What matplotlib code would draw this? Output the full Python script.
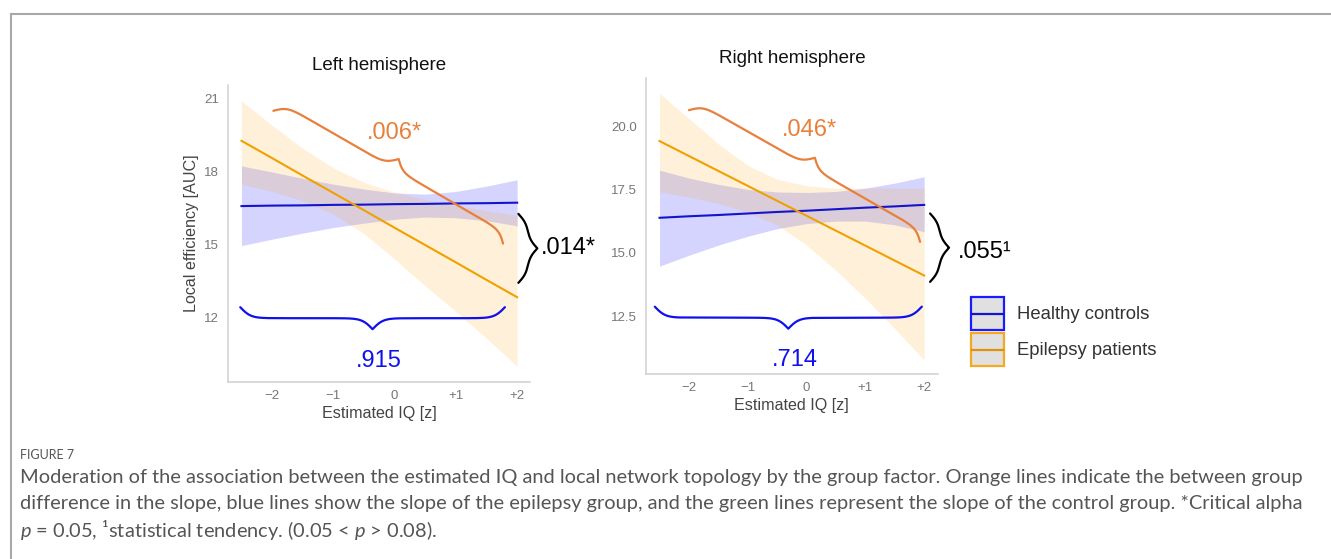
import numpy as np
import matplotlib
matplotlib.use("Agg")
import matplotlib.pyplot as plt
from matplotlib.patches import Rectangle
from matplotlib.transforms import IdentityTransform

plt.rcParams["font.family"] = ["Liberation Sans", "DejaVu Sans"]
plt.rcParams["mathtext.fontset"] = "custom"
plt.rcParams["mathtext.rm"] = "Lato"
plt.rcParams["mathtext.it"] = "Lato:italic"

# estimated IQ (z) grid where fits / CIs were read
iq_grid = [-2.5, -2.0, -1.5, -1.0, -0.5, 0.0, 0.5, 1.0, 1.5, 2.0]

# left hemisphere - healthy controls
lh_ctrl_fit = [16.58, 16.60, 16.61, 16.63, 16.64, 16.66, 16.67, 16.69, 16.70, 16.72]
lh_ctrl_lo = [14.96, 15.22, 15.47, 15.70, 15.88, 16.04, 16.13, 16.10, 15.98, 15.77]
lh_ctrl_hi = [18.23, 17.98, 17.72, 17.48, 17.28, 17.12, 17.07, 17.18, 17.40, 17.66]
# left hemisphere - epilepsy patients
lh_epi_fit = [19.26, 18.55, 17.83, 17.12, 16.41, 15.69, 14.98, 14.27, 13.55, 12.84]
lh_epi_lo = [17.48, 17.18, 16.80, 16.25, 15.45, 14.40, 13.30, 12.25, 11.15, 10.00]
lh_epi_hi = [20.90, 19.90, 18.95, 18.15, 17.55, 17.15, 16.85, 16.60, 16.40, 16.20]

# right hemisphere - healthy controls
rh_ctrl_fit = [16.38, 16.44, 16.49, 16.55, 16.61, 16.66, 16.72, 16.78, 16.83, 16.89]
rh_ctrl_lo = [14.47, 14.90, 15.30, 15.65, 15.95, 16.15, 16.25, 16.25, 16.10, 15.83]
rh_ctrl_hi = [18.26, 17.95, 17.70, 17.50, 17.40, 17.38, 17.42, 17.55, 17.75, 18.00]
# right hemisphere - epilepsy patients
rh_epi_fit = [19.41, 18.82, 18.23, 17.64, 17.05, 16.46, 15.87, 15.28, 14.69, 14.10]
rh_epi_lo = [17.41, 17.20, 16.95, 16.60, 16.10, 15.30, 14.30, 13.20, 12.00, 10.76]
rh_epi_hi = [21.29, 20.30, 19.30, 18.45, 17.90, 17.65, 17.55, 17.55, 17.55, 17.55]

xtick_vals = [-2, -1, 0, 1, 2]
xtick_labels = ["\u22122", "\u22121", "0", "+1", "+2"]
lh_yticks = [12, 15, 18, 21]
lh_ylabels = ["12", "15", "18", "21"]
rh_yticks = [12.5, 15.0, 17.5, 20.0]
rh_ylabels = ["12.5", "15.0", "17.5", "20.0"]

# p-values: slope difference, epilepsy slope, control slope
lh_p = [".006*", ".014*", ".915"]
rh_p = [".046*", ".055\u00b9", ".714"]
groups = ["Healthy controls", "Epilepsy patients"]

BLUE_LINE = "#1414cc"
ORANGE_LINE = "#f0a000"
BRACE_ORANGE = "#e8803c"
BRACE_BLUE = "#1010ee"

W, H = 1331, 559
fig = plt.figure(figsize=(W / 100, H / 100), dpi=100)

ax1 = fig.add_axes([228 / W, 1 - 382 / H, 302 / W, 297 / H])
ax2 = fig.add_axes([646 / W, 1 - 374.3 / H, 291.7 / W, 296.3 / H])


def panel(ax, c_fit, c_lo, c_hi, e_fit, e_lo, e_hi, xlim, ylim, yt, ytl, title):
    ax.fill_between(iq_grid, c_lo, c_hi, color="blue", alpha=0.17, lw=0)
    ax.fill_between(iq_grid, e_lo, e_hi, color="orange", alpha=0.15, lw=0)
    ax.plot(iq_grid, c_fit, color=BLUE_LINE, lw=1.5)
    ax.plot(iq_grid, e_fit, color=ORANGE_LINE, lw=1.5)
    ax.set_xlim(xlim)
    ax.set_ylim(ylim)
    ax.set_xticks(xtick_vals, xtick_labels)
    ax.set_yticks(yt, ytl)
    ax.tick_params(length=0, labelsize=9.5, labelcolor="#777777")
    ax.tick_params(axis="y", pad=6.5)
    ax.tick_params(axis="x", pad=5.5)
    for s in ["top", "right"]:
        ax.spines[s].set_visible(False)
    for s in ["left", "bottom"]:
        ax.spines[s].set_color("#d0d0d0")
        ax.spines[s].set_linewidth(1.1)
    ax.set_xlabel("Estimated IQ [z]", fontsize=11.6, color="#444444", labelpad=3)
    ax.annotate(title, xy=(0.5, 1), xycoords="axes fraction", xytext=(0, 13.8),
                textcoords="offset points", ha="center", va="center",
                fontsize=13.5, color="#111111")


def brace(ax, p1, p2, h, color, lw=1.6, beta=0.19):
    # curly brace between two data points, tip on the left-hand side of p1->p2
    a = ax.transData.transform(p1)
    b = ax.transData.transform(p2)
    d = b - a
    L = np.hypot(*d)
    u = d / L
    n = np.array([-u[1], u[0]])
    t = np.linspace(0, L / 2, 200)
    s = h * (2 / (1 + np.exp(-beta * t)) - 1) + 2 * h / (1 + np.exp(-beta * (t - L / 2)))
    t = np.concatenate([t, L - t[::-1]])
    s = np.concatenate([s, s[::-1]])
    pts = a + np.outer(t, u) + np.outer(s, n)
    ax.plot(pts[:, 0], pts[:, 1], color=color, lw=lw, transform=IdentityTransform(),
            clip_on=False, solid_capstyle="round")


panel(ax1, lh_ctrl_fit, lh_ctrl_lo, lh_ctrl_hi, lh_epi_fit, lh_epi_lo, lh_epi_hi,
      (-2.72, 2.21), (9.36, 21.55), lh_yticks, lh_ylabels, "Left hemisphere")
ax1.set_ylabel("Local efficiency [AUC]", fontsize=11.6, color="#444444", labelpad=4)
panel(ax2, rh_ctrl_fit, rh_ctrl_lo, rh_ctrl_hi, rh_epi_fit, rh_epi_lo, rh_epi_hi,
      (-2.73, 2.23), (10.2, 21.9), rh_yticks, rh_ylabels, "Right hemisphere")

# left panel annotations
brace(ax1, (-1.98, 20.49), (1.77, 15.04), 10.5, BRACE_ORANGE)
brace(ax1, (2.02, 16.26), (2.02, 13.43), 9.5, "black")
brace(ax1, (1.80, 12.43), (-2.52, 12.43), 11, BRACE_BLUE)
ax1.text(0.0, 19.6, lh_p[0], color=BRACE_ORANGE, fontsize=17, ha="center", va="center")
ax1.text(2.38, 14.87, lh_p[1], color="black", fontsize=17, ha="left", va="center", clip_on=False)
ax1.text(-0.25, 10.24, lh_p[2], color=BRACE_BLUE, fontsize=17, ha="center", va="center")

# right panel annotations
brace(ax2, (-2.0, 20.63), (1.93, 15.43), 10.5, BRACE_ORANGE)
brace(ax2, (2.10, 16.55), (2.10, 13.85), 9.5, "black")
brace(ax2, (1.96, 12.87), (-2.58, 12.87), 11, BRACE_BLUE)
ax2.text(0.05, 19.84, rh_p[0], color=BRACE_ORANGE, fontsize=17, ha="center", va="center")
ax2.text(2.57, 15.04, rh_p[1], color="black", fontsize=17, ha="left", va="center", clip_on=False)
ax2.text(-0.2, 10.76, rh_p[2], color=BRACE_BLUE, fontsize=17, ha="center", va="center")

# overlay in pixel units for frame, legend and caption
ov = fig.add_axes([0, 0, 1, 1], zorder=5)
ov.set_xlim(0, W)
ov.set_ylim(H, 0)
ov.axis("off")
ov.patch.set_visible(False)

ov.plot([10.5, 10.5], [H, 13.5], color="#a8a8a8", lw=1.5)
ov.plot([10.5, W], [13.5, 13.5], color="#a8a8a8", lw=1.5)

for i, (lab, edge, line) in enumerate(zip(groups, ["#1a1aff", "#f5a820"], [BLUE_LINE, "#e0900a"])):
    y0 = 297 + i * 36
    ov.add_patch(Rectangle((971, y0), 33, 33, facecolor="#e0e0e0", edgecolor=edge, lw=1.6))
    ov.plot([972, 1003], [y0 + 16.5, y0 + 16.5], color=line, lw=1.6)
    ov.text(1017, y0 + 17.5, lab, fontsize=13.3, color="#333333", va="center", ha="left")

cap = dict(family=["Lato", "DejaVu Sans"], color="#555555", ha="left", va="center")
ov.text(20, 455, "FIGURE 7", fontsize=9, **cap)
ov.text(20, 477, "Moderation of the association between the estimated IQ and local network topology by "
        "the group factor. Orange lines indicate the between group", fontsize=14.45, **cap)
ov.text(20, 504, "difference in the slope, blue lines show the slope of the epilepsy group, and the green "
        "lines represent the slope of the control group. *Critical alpha", fontsize=14.45, **cap)
ov.text(20, 530, "$p$ = 0.05, \u00b9statistical tendency. (0.05 < $p$ > 0.08).", fontsize=14.45, **cap)

fig.savefig("out.png", dpi=100)
